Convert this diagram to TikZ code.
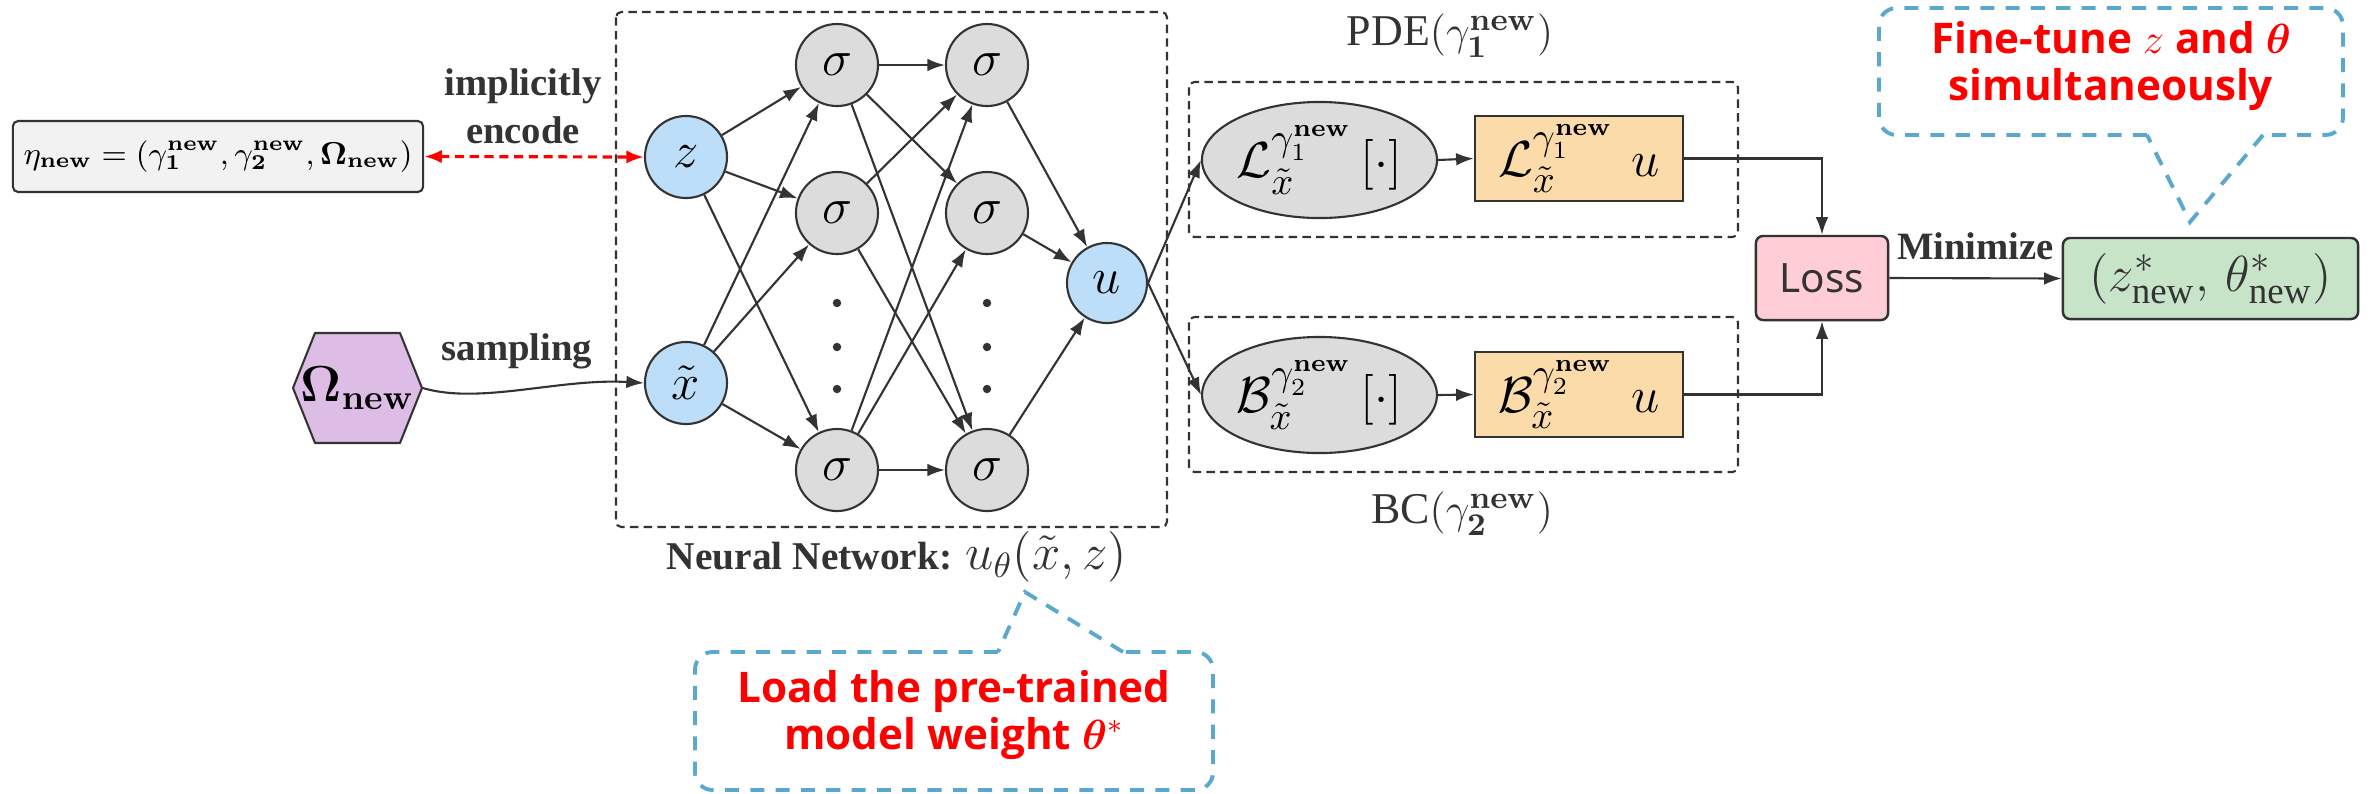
\documentclass[tikz,border=0pt]{standalone}
\usepackage{amsmath,amssymb,bm}
\usepackage[no-math]{fontspec}
\setmainfont{Liberation Serif}
\newfontfamily\notosans{Noto Sans}
\newfontfamily\calloutfont{Open Sans}
\usetikzlibrary{arrows.meta,shapes.geometric,calc}
\definecolor{dark}{RGB}{51,51,51}
\definecolor{nblue}{RGB}{189,222,248}
\definecolor{ngray}{RGB}{220,220,220}
\definecolor{egray}{RGB}{242,242,242}
\definecolor{hpurple}{RGB}{221,189,230}
\definecolor{orng}{RGB}{251,219,170}
\definecolor{lpink}{RGB}{255,205,213}
\definecolor{rgreen}{RGB}{199,228,201}
\definecolor{cblue}{RGB}{90,168,205}
\definecolor{tred}{RGB}{255,0,0}
\begin{document}
\begin{tikzpicture}[x=0.01cm, y=-0.01cm,
  ln/.style={draw=dark, line width=0.6pt},
  arr/.style={ln, -{Latex[length=5pt,width=3.6pt]}},
  redarr/.style={draw=tred, line width=0.9pt, dash pattern=on 2.6pt off 1.6pt,
     {Latex[length=5pt,width=3.8pt]}-{Latex[length=5pt,width=3.8pt]}},
  neuron/.style={circle, draw=dark, line width=0.6pt, minimum size=0.82cm, inner sep=0pt,
     font=\fontsize{14}{16}\selectfont},
  inp/.style={neuron, fill=nblue},
  hid/.style={neuron, fill=ngray},
  dashbox/.style={draw=dark, line width=0.6pt, dash pattern=on 2.4pt off 1.5pt, rounded corners=1.5pt},
  callout/.style={draw=cblue, line width=1.1pt, dash pattern=on 4pt off 3.2pt, rounded corners=5pt},
  lbl/.style={font=\fontsize{11}{13.6}\selectfont\bfseries, text=dark, align=center, inner sep=0pt},
  redtxt/.style={font=\calloutfont\fontsize{12}{13.2}\selectfont\bfseries, text=tred, align=center, inner sep=0pt},
  opel/.style={ellipse, draw=dark, line width=0.6pt, fill=ngray, minimum width=1.97cm, minimum height=1.16cm,
     inner sep=0pt, font=\fontsize{15}{18}\selectfont},
  oprect/.style={rectangle, draw=dark, line width=0.7pt, fill=orng, minimum width=2.08cm, minimum height=0.85cm,
     inner sep=0pt, font=\fontsize{15}{18}\selectfont},
  dotnode/.style={circle, fill=dark, inner sep=0pt, minimum size=2.4pt}
]
\useasboundingbox (0,0) rectangle (2374,793);

% group boxes
\draw[dashbox] (616,12) rectangle (1167,527);
\draw[dashbox] (1189,82) rectangle (1738,237);
\draw[dashbox] (1189,317) rectangle (1738,472);

% left side
\node[rectangle, draw=dark, fill=egray, rounded corners=1.5pt, line width=0.6pt,
      minimum width=4.10cm, minimum height=0.71cm, inner sep=0pt, font=\fontsize{8.8}{10}\selectfont]
  (eta) at (218,156.5)
  {$\eta_{\mathbf{new}}=(\gamma_{\mathbf 1}^{\mathbf{new}},\gamma_{\mathbf 2}^{\mathbf{new}},\mathbf{\Omega}_{\mathbf{new}})$};

\fill[hpurple] (293,388) -- (315,333) -- (400,333) -- (422,388) -- (400,443) -- (315,443) -- cycle;
\draw[ln, line join=round] (293,388) -- (315,333) -- (400,333) -- (422,388) -- (400,443) -- (315,443) -- cycle;
\node[inner sep=0pt, minimum width=1.29cm, minimum height=1.10cm, font=\fontsize{14}{16}\selectfont]
  (omega) at (357.5,388) {$\mathbf{\Omega}_{\mathbf{new}}$};

\node[lbl] (enc) at (523,106) {implicitly\\encode};
\node[lbl] (smp) at (517,351) {sampling};

% network
\node[inp] (z) at (686,157) {$z$};
\node[inp] (xt) at (686,383) {$\tilde{x}$};
\node[hid] (s11) at (837,65) {$\sigma$};
\node[hid] (s12) at (837,213) {$\sigma$};
\node[hid] (s13) at (837,470) {$\sigma$};
\node[hid] (s21) at (987,65) {$\sigma$};
\node[hid] (s22) at (987,213) {$\sigma$};
\node[hid] (s23) at (987,470) {$\sigma$};
\node[inp, minimum size=0.80cm] (u) at (1107,283) {$u$};
\node[dotnode] (d11) at (837,303) {};
\node[dotnode] (d12) at (837,347) {};
\node[dotnode] (d13) at (837,389) {};
\node[dotnode] (d21) at (987,303) {};
\node[dotnode] (d22) at (987,347) {};
\node[dotnode] (d23) at (987,389) {};

\foreach \a in {z,xt} \foreach \b in {s11,s12,s13} \draw[arr] (\a) -- (\b);
\foreach \a/\b in {s11/s21,s11/s22,s11/s23,s12/s21,s12/s23,s13/s21,s13/s22,s13/s23} \draw[arr] (\a) -- (\b);
\foreach \a in {s21,s22,s23} \draw[arr] (\a) -- (u);

\draw[redarr] (eta.east) -- (z.west);
\draw[arr] (omega.east) .. controls (480,405) and (560,378) .. (xt.west);

\node[lbl, font=\fontsize{11.2}{14}\selectfont\bfseries] (nnl) at (897,557)
  {Neural Network: {\fontsize{14}{16}\selectfont\mdseries$u_\theta(\tilde{x}, z)$}};

% operators
\node[opel] (Lop) at (1319.5,160) {$\mathcal{L}_{\tilde{x}}^{\gamma_1^{\mathbf{new}}}\,[\cdot]$};
\node[opel] (Bop) at (1319.5,395) {$\mathcal{B}_{\tilde{x}}^{\gamma_2^{\mathbf{new}}}\,[\cdot]$};
\node[oprect] (Lr) at (1579,158.5) {$\mathcal{L}_{\tilde{x}}^{\gamma_1^{\mathbf{new}}}\hspace{5pt}u$};
\node[oprect] (Br) at (1579,394.5) {$\mathcal{B}_{\tilde{x}}^{\gamma_2^{\mathbf{new}}}\hspace{5pt}u$};

\node[font=\fontsize{12.5}{14}\selectfont, text=dark, inner sep=0pt] (pdel) at (1450,36)
  {PDE$(\gamma_{\mathbf 1}^{\mathbf{new}})$};
\node[font=\fontsize{12.5}{14}\selectfont, text=dark, inner sep=0pt] (bcl) at (1462,514)
  {BC$(\gamma_{\mathbf 2}^{\mathbf{new}})$};

\draw[arr] (u.east) -- (Lop.west);
\draw[arr] (u.east) -- (Bop.west);
\draw[arr] (Lop.east) -- (Lr.west);
\draw[arr] (Bop.east) -- (Br.west);

% loss and result
\node[rectangle, rounded corners=2pt, draw=dark, line width=0.7pt, fill=lpink, minimum width=1.32cm,
      minimum height=0.84cm, inner sep=0pt, font=\notosans\fontsize{11.5}{14}\selectfont, text=dark]
  (loss) at (1822,278) {Loss};
\node[rectangle, rounded corners=2pt, draw=dark, line width=0.7pt, fill=rgreen, minimum width=2.95cm,
      minimum height=0.81cm, inner sep=0pt, font=\fontsize{15}{18}\selectfont, text=dark]
  (res) at (2210.5,278.5) {$(z^{*}_{\text{new}},\,\theta^{*}_{\text{new}})$};

\draw[arr] (Lr.east) -| (loss.north);
\draw[arr] (Br.east) -| (loss.south);
\draw[arr] (loss.east) -- node[lbl, above=5pt] (minl) {Minimize} (res.west);

% callouts
\coordinate (ftip) at (2190,222);
\coordinate (fl) at (2147,135);
\coordinate (fr) at (2263,135);
\draw[callout] (fl) -- (1879,135) -- (1879,8) -- (2343,8) -- (2343,135) -- (fr);
\draw[callout, sharp corners] (fr) -- (ftip) -- (fl);
\node[redtxt] (ft) at (2111,66) {Fine-tune $z$ and $\bm{\theta}$\\simultaneously};

\coordinate (ltip) at (1025,592);
\coordinate (ll) at (998,652);
\coordinate (lr) at (1123,652);
\draw[callout] (ll) -- (695,652) -- (695,790) -- (1213,790) -- (1213,652) -- (lr);
\draw[callout, sharp corners] (lr) -- (ltip) -- (ll);
\node[redtxt] (lt) at (954,715) {Load the pre-trained\\model weight $\bm{\theta}^{*}$};
\end{tikzpicture}
\end{document}
